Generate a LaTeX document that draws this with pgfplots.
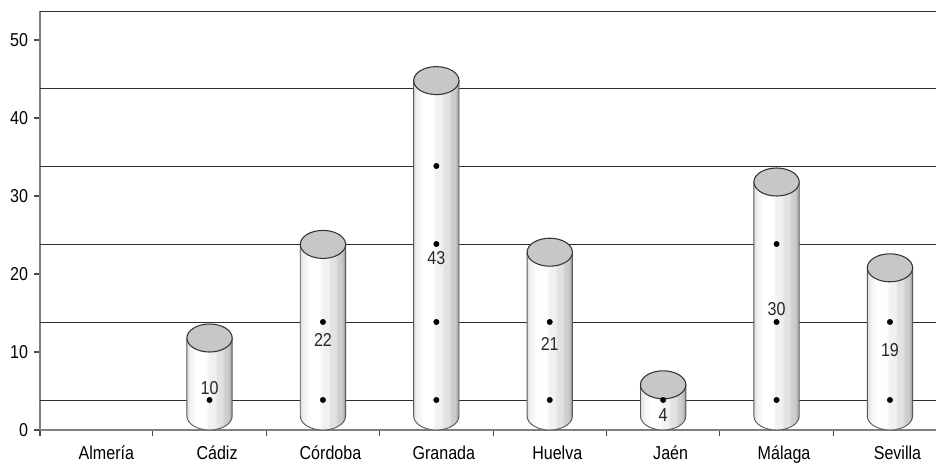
\documentclass[border=0pt]{standalone}
\usepackage{fontspec}
\setmainfont[FakeStretch=0.86]{Liberation Sans}
\usepackage{pgfplots}
\pgfplotsset{compat=1.18}
\usepackage{pgfplotstable}

\definecolor{axisgray}{HTML}{808080}
\definecolor{gridline}{HTML}{2E2E2E}
\definecolor{captop}{HTML}{C6C7C9}
\definecolor{edge}{HTML}{333333}
\definecolor{sideedge}{HTML}{5A5A5A}

% cylinder side, light from the left (25bp-75bp is what shows)
\pgfdeclarehorizontalshading{cyl}{100bp}{
  color(0bp)=(black!14);
  color(25bp)=(black!14);
  color(28bp)=(black!6);
  color(36bp)=(white);
  color(46bp)=(white);
  color(49bp)=(black!5);
  color(56bp)=(black!6);
  color(58bp)=(black!11);
  color(64bp)=(black!12);
  color(66bp)=(black!18);
  color(71bp)=(black!21);
  color(73bp)=(black!32);
  color(75bp)=(black!45);
  color(100bp)=(black!45)}

% 1 value = 5.85pt, half width 17pt, half depth 10.5pt
\pgfdeclareplotmark{cylinder}{%
  \pgfmathsetlengthmacro{\cylh}{\val*5.85pt}%
  \path[draw=sideedge,line width=0.7pt,shading=cyl]
    (-17pt,10.5pt) -- (-17pt,-\cylh+10.5pt)
    arc[start angle=180,end angle=360,x radius=17pt,y radius=10.5pt]
    -- (17pt,10.5pt) -- cycle;
  \path[draw=edge,line width=0.8pt,fill=captop]
    (0pt,10.5pt) ellipse[x radius=17pt,y radius=10.5pt];
}

\pgfplotstableread{
x v
1 10
2 22
3 43
4 21
5 4
6 30
7 19
}\bars

% y is where the number sits on the bar
\pgfplotstableread{
x y v
1 5.4 10
2 11.5 22
3 22 43
4 11 21
5 1.9 4
6 15.5 30
7 10.3 19
}\barlabels

% grid lines that show faintly through the bars
\pgfplotstableread{
x y
1 3.85
2 3.85
2 13.85
3 3.85
3 13.85
3 23.85
3 33.85
4 3.85
4 13.85
5 3.85
6 3.85
6 13.85
6 23.85
7 3.85
7 13.85
}\ghosts

\begin{document}
\begin{tikzpicture}
\useasboundingbox (-30pt,-24pt) rectangle (672pt,322.5pt);
\begin{axis}[
  at={(0pt,0pt)},anchor=south west,
  scale only axis,
  width=672pt,height=314.25pt,
  xmin=-0.495,xmax=7.406,
  ymin=0,ymax=53.72,
  clip=false,
  axis y line*=left,
  axis x line*=bottom,
  axis line style={axisgray,line width=1.4pt},
  font=\fontsize{14}{16}\selectfont,
  /pgf/number format/assume math mode=true,
  ytick={0,10,20,30,40,50},
  xtick={0.09,1.066,2.066,3.066,4.066,5.066,6.066,7.066},
  xticklabels={Almería,Cádiz,Córdoba,Granada,Huelva,Jaén,Málaga,Sevilla},
  minor xtick={-0.495,0.5,1.5,2.5,3.5,4.5,5.5,6.5},
  major tick style={black!70,line width=0.8pt},
  minor tick style={black!70,line width=0.8pt},
  tick align=outside,
  tickwidth=4.5pt,
  x tick style={draw=none},
  minor x tick style={draw=black!70},
  subtickwidth=4.5pt,
  xticklabel style={yshift=-4pt},
  yticklabel style={xshift=-1pt},
  extra y ticks={3.85,13.85,23.85,33.85,43.85,53.68},
  extra y tick labels={},
  extra y tick style={grid=major,major grid style={gridline,line width=0.7pt},tickwidth=0pt},
]
\addplot[
  scatter,only marks,mark=cylinder,
  visualization depends on={\thisrow{v}\as\val},
] table[x=x,y=v] {\bars};
\addplot[
  only marks,mark=none,
  error bars/.cd,x dir=both,x fixed=0.19,error mark=none,
  error bar style={black!40,line width=0.5pt,dash pattern=on 0.7pt off 4pt},
] table[x=x,y=y] {\ghosts};
\addplot[
  only marks,mark=none,
  nodes near coords,
  nodes near coords style={anchor=center,text=black!85,font=\fontsize{14}{16}\selectfont},
  point meta=explicit symbolic,
] table[x=x,y=y,meta=v] {\barlabels};
\end{axis}
\end{tikzpicture}
\end{document}
